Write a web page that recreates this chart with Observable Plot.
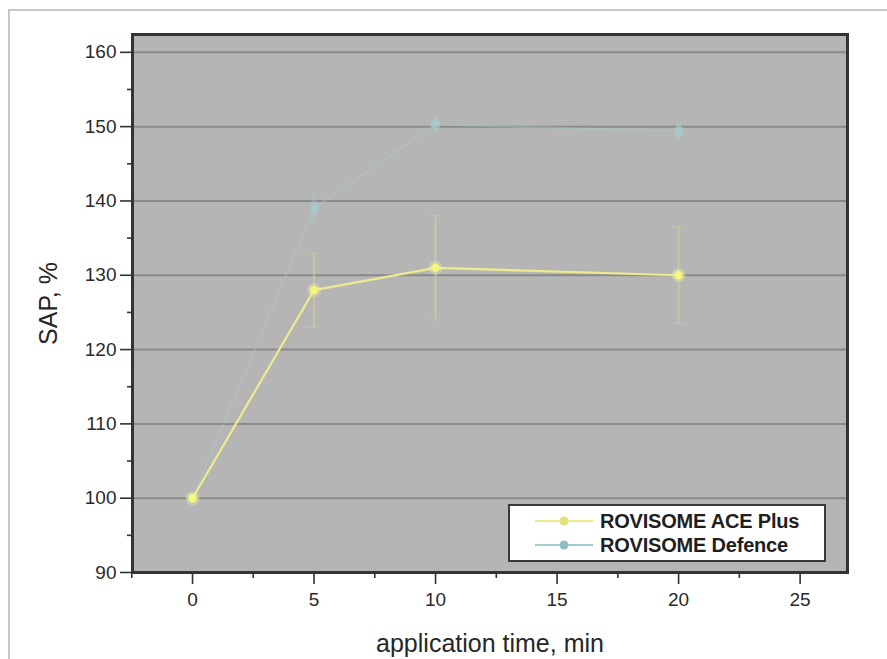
<!DOCTYPE html>
<html><head><meta charset="utf-8">
<script src="https://cdn.jsdelivr.net/npm/d3@7"></script>
<script src="https://cdn.jsdelivr.net/npm/@observablehq/plot@0.6"></script>
<style>
body{margin:0;background:#fff;font-family:"Liberation Sans",Arial,sans-serif;}
#wrap{position:relative;width:887px;height:659px;overflow:hidden;}
#border{position:absolute;left:8px;top:9px;width:900px;height:700px;border:2px solid #c6c6c6;pointer-events:none;}
#legend{position:absolute;left:508px;top:504px;width:318px;height:58px;background:#fff;border:2px solid #3a3a3a;box-sizing:border-box;font:bold 20px "Liberation Sans",Arial,sans-serif;color:#1e1e1e;}
#legend .row{position:absolute;left:23px;height:22px;display:flex;align-items:center;}
#legend span{margin-left:5px;letter-spacing:-0.2px;}
svg text{fill:#2a2a2a;}
g[aria-label="y-axis label"] text, g[aria-label="x-axis label"] text{font-size:25px;fill:#262626;}
g[aria-label="y-axis tick label"] text, g[aria-label="x-axis tick label"] text{font-size:19px;fill:#2a2a2a;}
</style></head>
<body><div id="wrap"><div id="chart"></div><div id="border"></div>
<div id="legend"></div></div>
<script>
const seriesNames = ["ROVISOME ACE Plus", "ROVISOME Defence"];
const seriesColors = ["#ecec8e", "#a6cdcd"];
const times = [0, 5, 10, 20];
const acePlus = [100, 128, 131, 130];
const aceErr = [0, 5, 7, 6.5];
const defence = [100, 139, 150.3, 149.4];
const defErr = [0, 2, 1.2, 1.2];
const yMajor = [90, 100, 110, 120, 130, 140, 150, 160];
const yMinor = [95, 105, 115, 125, 135, 145, 155];
const xMajor = [0, 5, 10, 15, 20, 25];
const xMinor = [-2.5, 2.5, 7.5, 12.5, 17.5, 22.5];

const rows = [];
times.forEach((t, i) => {
  rows.push({series: seriesNames[0], t, v: acePlus[i], e: aceErr[i]});
  rows.push({series: seriesNames[1], t, v: defence[i], e: defErr[i]});
});
const ace = rows.filter(d => d.series === seriesNames[0]);
const def = rows.filter(d => d.series === seriesNames[1]);
const aceE = ace.filter(d => d.e > 0);
const defE = def.filter(d => d.e > 0);

const chart = Plot.plot({
  width: 887, height: 659,
  marginLeft: 132, marginRight: 40, marginTop: 34, marginBottom: 87,
  style: {fontFamily: '"Liberation Sans", Arial, sans-serif', background: "transparent"},
  x: {type: "linear", domain: [-2.47, 26.95]},
  y: {type: "linear", domain: [90, 162.4]},
  marks: [
    Plot.frame({fill: "#b5b5b5"}),
    Plot.ruleY(yMajor.slice(1), {stroke: "#8a8a8a", strokeWidth: 2}),
    // Defence
    Plot.line(def, {x: "t", y: "v", stroke: seriesColors[1], strokeWidth: 2, strokeOpacity: 0.35}),
    Plot.ruleX(defE, {x: "t", y1: d => d.v - d.e, y2: d => d.v + d.e, stroke: seriesColors[1], strokeWidth: 5, strokeOpacity: 0.35}),
    Plot.dot(def, {x: "t", y: "v", r: 5, fill: seriesColors[1], fillOpacity: 0.6}),
    // ACE Plus
    Plot.ruleX(aceE, {x: "t", y1: d => d.v - d.e, y2: d => d.v + d.e, stroke: "#cfcf9e", strokeWidth: 1.8, strokeOpacity: 0.7}),
    Plot.ruleY(aceE, {y: d => d.v + d.e, x1: d => d.t - 0.3, x2: d => d.t + 0.3, stroke: "#cfcf9e", strokeOpacity: 0.5}),
    Plot.ruleY(aceE, {y: d => d.v - d.e, x1: d => d.t - 0.3, x2: d => d.t + 0.3, stroke: "#cfcf9e", strokeOpacity: 0.5}),
    Plot.line(ace, {x: "t", y: "v", stroke: seriesColors[0], strokeWidth: 2.2}),
    Plot.dot(ace, {x: "t", y: "v", r: 7, fill: "#f4f4a0", fillOpacity: 0.35}),
    Plot.dot(ace, {x: "t", y: "v", r: 4.2, fill: "#f6f67c"}),
    Plot.frame({stroke: "#333", strokeWidth: 3}),
    Plot.axisY(yMajor, {tickSize: 12, tickPadding: 4, label: "SAP, %", labelArrow: "none", labelAnchor: "center", labelOffset: 93, stroke: "#333", strokeWidth: 1.6}),
    Plot.axisY(yMinor, {tickSize: 5, tickFormat: () => "", label: null, stroke: "#333", strokeWidth: 1.6}),
    Plot.axisX(xMajor, {tickSize: 12, tickPadding: 8, label: "application time, min", labelArrow: "none", labelAnchor: "center", labelOffset: 79, stroke: "#333", strokeWidth: 1.6}),
    Plot.axisX(xMinor, {tickSize: 6, tickFormat: () => "", label: null, stroke: "#333", strokeWidth: 1.6})
  ]
});
document.getElementById("chart").appendChild(chart);

const legend = document.getElementById("legend");
seriesNames.forEach((name, i) => {
  const row = document.createElement("div");
  row.className = "row";
  row.style.top = (i === 0 ? 4 : 28) + "px";
  row.innerHTML = `<svg width="62" height="16"><line x1="2" x2="60" y1="8" y2="8" stroke="${seriesColors[i]}" stroke-width="2"/><circle cx="31" cy="8" r="4.5" fill="${i===0?'#e2e27a':'#8fbcc4'}"/></svg><span>${name}</span>`;
  legend.appendChild(row);
});
</script></body></html>
